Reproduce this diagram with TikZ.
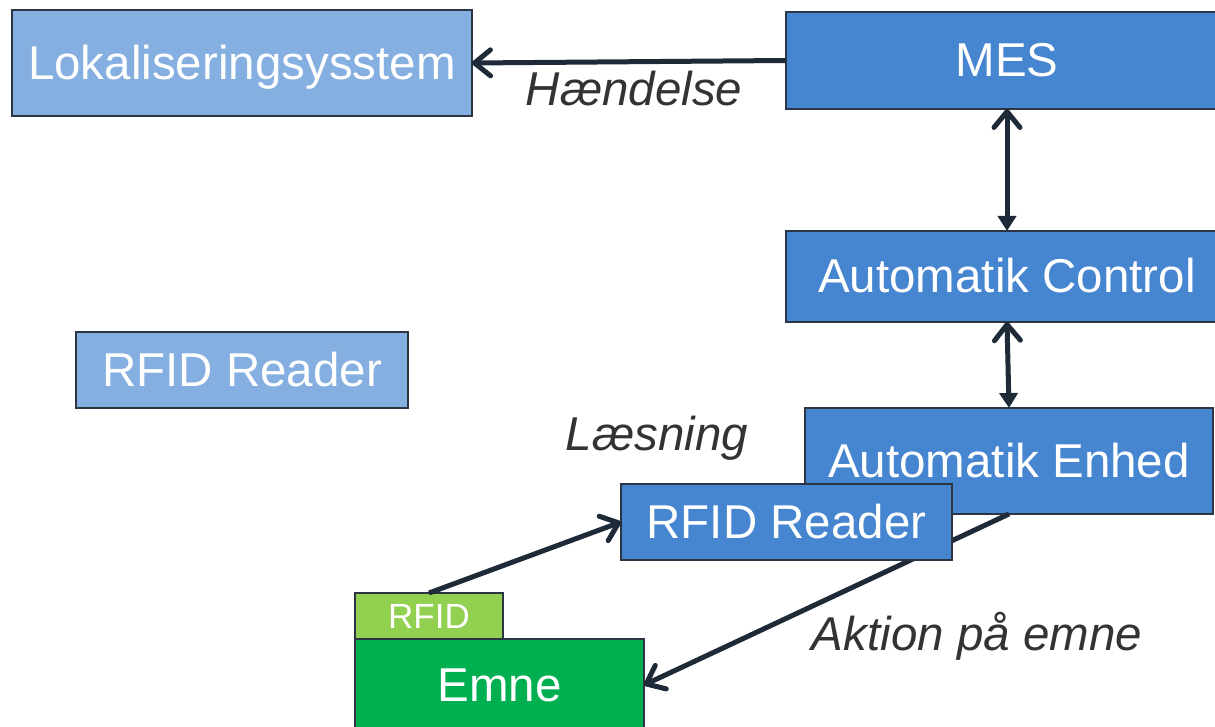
\documentclass[tikz,border=0pt]{standalone}
\usepackage{fontspec}
\setmainfont{Liberation Sans}
\usetikzlibrary{arrows.meta}
\definecolor{lightblue}{HTML}{84AFE0}
\definecolor{midblue}{HTML}{4685CF}
\definecolor{lightgreen}{HTML}{92D050}
\definecolor{darkgreen}{HTML}{00B050}
\definecolor{boxline}{HTML}{2B3544}
\definecolor{arrowcol}{HTML}{1F2A38}
\definecolor{labelcol}{HTML}{333333}
\tikzset{
  box/.style={draw=boxline, line width=1.5pt, inner sep=0pt, outer sep=0pt,
    text=white, font=\fontsize{47.5}{56}\selectfont, text height=33pt, text depth=0pt},
  lbox/.style={box, fill=lightblue},
  mbox/.style={box, fill=midblue},
  conn/.style={draw=arrowcol, line width=5pt},
  barb/.tip={Straight Barb[length=16pt,width=26pt,round]},
  tri/.tip={Triangle[length=15pt,width=18pt]},
  lbl/.style={text=labelcol, font=\fontsize{47.5}{56}\selectfont\itshape, anchor=base, inner sep=0pt}
}
\begin{document}
\begin{tikzpicture}[x=1pt,y=-1pt]
\useasboundingbox (0,0) rectangle (1215,727);
\clip (0,0) rectangle (1215,727);
\node[lbox, minimum width=460pt, minimum height=106pt] (lok) at (242,63) {Lokaliseringsysstem};
\node[mbox, minimum width=442pt, minimum height=97pt] (mes) at (1007,60.5) {MES};
\node[mbox, minimum width=442pt, minimum height=91pt] (ac) at (1007,276.5) {Automatik Control};
\node[mbox, minimum width=408pt, minimum height=106pt] (ae) at (1009,461) {Automatik Enhed};
\node[lbox, minimum width=332pt, minimum height=76pt] (lrf) at (242,370) {RFID Reader};
\node[box, fill=darkgreen, minimum width=289pt, minimum height=92pt] (emne) at (499.5,685) {Emne};
\node[box, fill=lightgreen, minimum width=148pt, minimum height=46pt, font=\fontsize{35}{42}\selectfont, text height=25pt] (tag) at (429,616) {RFID};
\draw[conn, -barb] (ae.south) -- (emne.east);
\node[mbox, minimum width=331pt, minimum height=76pt] (rf) at (786.5,522) {RFID Reader};
\draw[conn, -barb] (mes.west) -- (lok.east);
\draw[conn, barb-tri] (mes.south) -- (ac.north);
\draw[conn, barb-tri] (ac.south) -- (ae.north);
\draw[conn, -barb] (tag.north) -- (rf.west);
\node[lbl] (l1) at (634,106) {Hændelse};
\node[lbl] (l2) at (657,450) {Læsning};
\node[lbl] (l3) at (977,650) {Aktion på emne};
\end{tikzpicture}
\end{document}
